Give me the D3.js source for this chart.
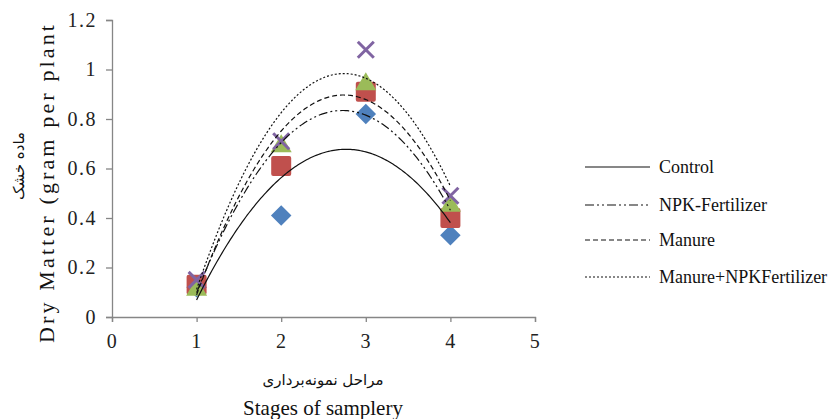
<!DOCTYPE html>
<html>
<head>
<meta charset="utf-8">
<script src="https://cdn.jsdelivr.net/npm/d3@7"></script>
<style>
  html, body { margin: 0; padding: 0; background: #fff; }
  svg { display: block; }
</style>
</head>
<body>
<svg id="chart" width="838" height="419"></svg>
<script>
// Sampling stages (x) and dry matter per plant (g) for each treatment
const stages = [1, 2, 3, 4];
const control = [0.12, 0.41, 0.82, 0.33];
const npkFertilizer = [0.13, 0.61, 0.91, 0.40];
const manure = [0.11, 0.69, 0.94, 0.45];
const manureNpk = [0.15, 0.71, 1.08, 0.49];

const seriesNames = ["Control", "NPK-Fertilizer", "Manure", "Manure+NPKFertilizer"];
const xTicks = [0, 1, 2, 3, 4, 5];
const yTicks = [0, 0.2, 0.4, 0.6, 0.8, 1, 1.2];
const yTickLabels = ["0", "0.2", "0.4", "0.6", "0.8", "1", "1.2"];

const series = [
  { name: seriesNames[0], values: control,       color: "#4F81BD", symbol: "diamond",  dash: null },
  { name: seriesNames[1], values: npkFertilizer, color: "#C0504D", symbol: "square",   dash: "9,3,2,3,2,3" },
  { name: seriesNames[2], values: manure,        color: "#9BBB59", symbol: "triangle", dash: "5,3" },
  { name: seriesNames[3], values: manureNpk,     color: "#8064A2", symbol: "x",        dash: "2,2" }
];

const SERIF = "'Liberation Serif', 'Times New Roman', serif";
const ARABIC = "'DejaVu Sans', sans-serif";

const svg = d3.select("#chart");
const x = d3.scaleLinear().domain([0, 5]).range([112, 535]);
const y = d3.scaleLinear().domain([0, 1.2]).range([317, 20]);

// Axes
const axisColor = "#868686";
const gx = svg.append("g").attr("transform", `translate(0,${y(0)})`)
  .call(d3.axisBottom(x).tickValues(xTicks).tickSize(5).tickPadding(12).tickFormat(d3.format("d")));
const gy = svg.append("g").attr("transform", `translate(${x(0)},0)`)
  .call(d3.axisLeft(y).tickValues(yTicks).tickSize(6).tickPadding(9)
    .tickFormat((d, i) => yTickLabels[i]));
[gx, gy].forEach(g => {
  g.attr("font-family", null).attr("font-size", null);
  g.select(".domain").attr("stroke", axisColor).attr("stroke-width", 1.3);
  g.selectAll(".tick line").attr("stroke", axisColor).attr("stroke-width", 1.3);
  g.selectAll(".tick text")
    .style("font-family", SERIF).style("font-size", "20px").style("letter-spacing", "1.5px")
    .attr("fill", "#222");
});

// Least-squares quadratic fit (order-2 polynomial trendline)
function quadFit(xs, ys) {
  const n = xs.length;
  const s = [0, 0, 0, 0, 0], t = [0, 0, 0];
  for (let i = 0; i < n; i++) {
    for (let k = 0; k <= 4; k++) s[k] += Math.pow(xs[i], k);
    for (let k = 0; k <= 2; k++) t[k] += ys[i] * Math.pow(xs[i], k);
  }
  const A = [[s[0], s[1], s[2]], [s[1], s[2], s[3]], [s[2], s[3], s[4]]];
  const det = m => m[0][0]*(m[1][1]*m[2][2]-m[1][2]*m[2][1]) - m[0][1]*(m[1][0]*m[2][2]-m[1][2]*m[2][0]) + m[0][2]*(m[1][0]*m[2][1]-m[1][1]*m[2][0]);
  const D = det(A);
  const coef = [0, 1, 2].map(c => det(A.map((row, r) => row.map((v, j) => j === c ? t[r] : v))) / D);
  return xv => coef[0] + coef[1] * xv + coef[2] * xv * xv;
}

// Markers
function marker(g, type, color) {
  if (type === "diamond") {
    g.append("path").attr("d", d3.symbol(d3.symbolSquare, 210)()).attr("transform", "rotate(45)").attr("fill", color);
  } else if (type === "square") {
    g.append("rect").attr("x", -10).attr("y", -10).attr("width", 20).attr("height", 20).attr("rx", 2).attr("fill", color);
  } else if (type === "triangle") {
    g.append("path").attr("d", "M0,-12 L10.5,6 L-10.5,6 Z").attr("fill", color);
  } else if (type === "x") {
    g.append("path").attr("d", "M-8,-8 L8,8 M-8,8 L8,-8").attr("stroke", color).attr("stroke-width", 3).attr("fill", "none");
  }
}

const pts = svg.append("g");
series.forEach(s => {
  s.values.forEach((v, i) => {
    const g = pts.append("g").attr("transform", `translate(${x(stages[i])},${y(v)})`);
    marker(g, s.symbol, s.color);
  });
});

// Trendlines over the markers
const line = d3.line().x(d => x(d[0])).y(d => y(d[1]));
series.forEach(s => {
  const f = quadFit(stages, s.values);
  const xs = d3.range(stages[0], stages[stages.length - 1] + 0.0001, 0.02);
  svg.append("path")
    .attr("d", line(xs.map(v => [v, f(v)])))
    .attr("fill", "none").attr("stroke", "#111").attr("stroke-width", 1.2)
    .attr("stroke-dasharray", s.dash);
});

// Legend
const legendRows = [167, 205, 240, 277];
const lg = svg.append("g");
series.forEach((s, i) => {
  lg.append("line").attr("x1", 585).attr("x2", 650).attr("y1", legendRows[i]).attr("y2", legendRows[i])
    .attr("stroke", "#111").attr("stroke-width", 1.2).attr("stroke-dasharray", s.dash);
  lg.append("text").attr("x", 659).attr("y", legendRows[i]).attr("dy", "0.35em")
    .style("font-family", SERIF).style("font-size", "18px")
    .attr("fill", "#111").text(s.name);
});

// Axis titles
svg.append("text").attr("x", 323).attr("y", 380).attr("dy", "0.35em")
  .attr("text-anchor", "middle").style("font-family", ARABIC).style("font-size", "15px")
  .attr("direction", "rtl").attr("fill", "#111").text("مراحل نمونه‌برداری");
svg.append("text").attr("x", 323).attr("y", 408).attr("dy", "0.35em")
  .attr("text-anchor", "middle").style("font-family", SERIF).style("font-size", "21px")
  .attr("fill", "#111").text("Stages of samplery");

svg.append("text").attr("transform", "translate(46,184) rotate(-90)").attr("dy", "0.35em")
  .attr("text-anchor", "middle").style("font-family", SERIF).style("font-size", "22px")
  .attr("textLength", 318).attr("lengthAdjust", "spacing")
  .attr("fill", "#111").text("Dry Matter (gram per plant");
svg.append("text").attr("transform", "translate(19,166) rotate(-90)").attr("dy", "0.35em")
  .attr("text-anchor", "middle").style("font-family", ARABIC).style("font-size", "15px")
  .attr("direction", "rtl").attr("fill", "#111").text("ماده خشک");
</script>
</body>
</html>
